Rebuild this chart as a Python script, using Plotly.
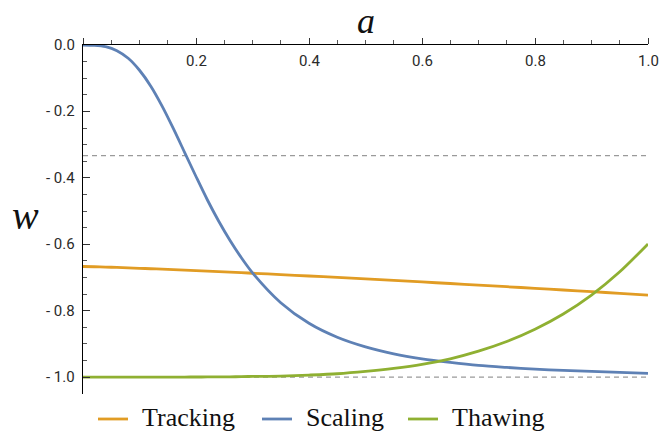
import plotly.graph_objects as go

# ---- data ----
a_vals = [0.0, 0.02, 0.04, 0.06, 0.08, 0.10, 0.12, 0.14, 0.16, 0.18, 0.20, 0.22, 0.24,
          0.26, 0.28, 0.30, 0.35, 0.40, 0.45, 0.50, 0.55, 0.60, 0.65, 0.70, 0.75,
          0.80, 0.85, 0.90, 0.95, 1.00]

tracking = [-0.6670, -0.6678, -0.6688, -0.6699, -0.6711, -0.6724, -0.6738, -0.6751, -0.6765, -0.6780,
            -0.6795, -0.6810, -0.6825, -0.6841, -0.6856, -0.6873, -0.6914, -0.6956, -0.7000, -0.7044,
            -0.7090, -0.7136, -0.7183, -0.7231, -0.7279, -0.7328, -0.7378, -0.7428, -0.7479, -0.7530]

scaling = [0.0, -0.001, -0.005, -0.017, -0.040, -0.076, -0.124, -0.184, -0.252, -0.324,
           -0.396, -0.466, -0.530, -0.588, -0.640, -0.686, -0.776, -0.838, -0.880, -0.909,
           -0.930, -0.945, -0.956, -0.965, -0.971, -0.976, -0.980, -0.983, -0.986, -0.989]

thawing = [-1.0, -1.0, -1.0, -1.0, -1.0, -1.0, -1.0, -1.0, -1.0, -0.9999,
           -0.9998, -0.9997, -0.9995, -0.9992, -0.9988, -0.998, -0.997, -0.994, -0.990, -0.983,
           -0.974, -0.962, -0.945, -0.922, -0.893, -0.856, -0.810, -0.753, -0.683, -0.599]

series_names = ["Tracking", "Scaling", "Thawing"]
series_colors = ["#E19C24", "#5E81B5", "#8FB032"]
ref_levels = [-1/3, -1.0]

x_tick_vals = [0.2, 0.4, 0.6, 0.8, 1.0]
x_tick_text = ["0.2", "0.4", "0.6", "0.8", "1.0"]
y_tick_vals = [0.0, -0.2, -0.4, -0.6, -0.8, -1.0]
y_tick_text = ["0.0", "- 0.2", "- 0.4", "- 0.6", "- 0.8", "- 1.0"]

fig = go.Figure()
for name, ys, col in zip(series_names, [tracking, scaling, thawing], series_colors):
    fig.add_trace(go.Scatter(x=a_vals, y=ys, mode="lines", name=name, showlegend=False,
                             line=dict(color=col, width=2.8, shape="spline", smoothing=0.8)))

for lvl in ref_levels:
    fig.add_shape(type="line", xref="x", yref="y", x0=0, x1=1, y0=lvl, y1=lvl,
                  line=dict(color="#9a9a9a", width=1.2, dash="5px,4px"), layer="below")

tick_font = dict(family="Roboto", size=15, color="#2a2a2a")
serif = "Liberation Serif, serif"

fig.update_layout(
    width=672, height=433,
    margin=dict(l=83, r=24, t=45, b=39, autoexpand=False),
    paper_bgcolor="white", plot_bgcolor="white",
    showlegend=False,
    xaxis=dict(range=[0, 1], side="top", showline=True, linecolor="black", linewidth=1.3,
               showgrid=False, zeroline=False, ticks="outside", ticklen=6, tickwidth=1,
               tickcolor="#333333", tickvals=[0.0] + x_tick_vals, showticklabels=False,
               minor=dict(dtick=0.05, tick0=0, ticks="outside", ticklen=4, tickcolor="#555555")),
    yaxis=dict(range=[-1.051, 0.0], showline=True, linecolor="black", linewidth=1.3,
               showgrid=False, zeroline=False, ticks="inside", ticklen=7, tickwidth=1,
               tickcolor="#333333", tickvals=y_tick_vals, showticklabels=False,
               minor=dict(dtick=0.05, tick0=0, ticks="inside", ticklen=4, tickcolor="#555555")),
)

# tick labels (x labels sit just below the top axis line, Mathematica style)
for v, t in zip(x_tick_vals, x_tick_text):
    fig.add_annotation(text=t, xref="x", yref="paper", x=v, y=1.0, yshift=-16,
                       showarrow=False, font=tick_font, xanchor="center", yanchor="middle")
for v, t in zip(y_tick_vals, y_tick_text):
    fig.add_annotation(text=t, xref="paper", yref="y", x=0.0, y=v, xshift=-6,
                       showarrow=False, font=tick_font, xanchor="right", yanchor="middle")

# axis titles
fig.add_annotation(text="<i>a</i>", xref="paper", yref="paper", x=0.5, y=1.0, yshift=45,
                   showarrow=False, font=dict(family=serif, size=36, color="#111111"),
                   xanchor="center", yanchor="top", borderpad=0)
fig.add_annotation(text="<i>w</i>", xref="paper", yref="paper", x=0, xshift=-73, y=0.5, yshift=4,
                   showarrow=False, font=dict(family=serif, size=40, color="#111111"),
                   xanchor="left", yanchor="middle")

# manual legend below the plot
leg_seg_x = [98, 262, 408]
leg_txt_x = [140, 304, 450]
leg_y = 419
for name, col, sx, tx in zip(series_names, series_colors, leg_seg_x, leg_txt_x):
    fig.add_shape(type="line", xref="paper", yref="paper",
                  x0=(sx - 83) / 565, x1=(sx + 30 - 83) / 565,
                  y0=-(leg_y - 394) / 349, y1=-(leg_y - 394) / 349,
                  line=dict(color=col, width=2.8))
    fig.add_annotation(text=name, xref="paper", yref="paper", x=(tx - 83) / 565,
                       y=-(leg_y - 394) / 349, showarrow=False, xanchor="left", yanchor="middle",
                       yshift=2,
                       font=dict(family=serif, size=26, color="#111111"))

fig.write_html("out.html", config={"displayModeBar": False},
               post_script="document.body.style.margin='0px';document.body.style.padding='0px';")
